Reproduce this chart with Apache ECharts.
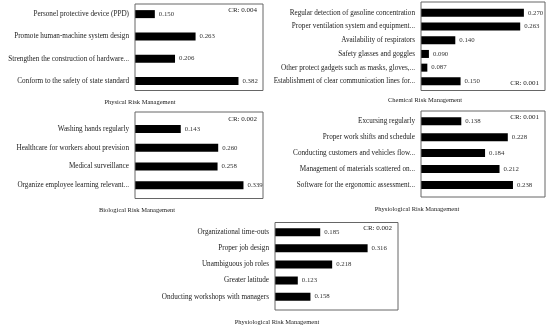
<!DOCTYPE html>
<html>
<head>
<meta charset="utf-8">
<script src="https://cdn.jsdelivr.net/npm/echarts@6/dist/echarts.min.js"></script>
<style>html,body{margin:0;padding:0;background:#fff;}#c{width:550px;height:329px;}</style>
</head>
<body>
<div id="c"></div>
<script>
// ---- data ----
var physicalCats = ["Personel protective device (PPD)", "Promote human-machine system design", "Strengthen the construction of hardware...", "Conform to the safety of state standard"];
var physicalVals = [0.150, 0.263, 0.206, 0.382];
var chemicalCats = ["Regular detection of gasoline concentration", "Proper ventilation system and equipment...", "Availability of respirators", "Safety glasses and goggles", "Other protect gadgets such as masks, gloves,...", "Establishment of clear communication lines for..."];
var chemicalVals = [0.270, 0.263, 0.140, 0.090, 0.087, 0.150];
var biologicalCats = ["Washing hands regularly", "Healthcare for workers about prevision", "Medical surveillance", "Organize employee learning relevant..."];
var biologicalVals = [0.143, 0.260, 0.258, 0.339];
var physio1Cats = ["Excursing regularly", "Proper work shifts and schedule", "Conducting customers and vehicles flow...", "Management of materials scattered on...", "Software for the ergonomic assessment..."];
var physio1Vals = [0.138, 0.228, 0.184, 0.212, 0.238];
var physio2Cats = ["Organizational time-outs", "Proper job design", "Unambiguous job roles", "Greater latitude", "Onducting workshops with managers"];
var physio2Vals = [0.185, 0.316, 0.218, 0.123, 0.158];
var titles = ["Physical Risk Management", "Chemical Risk Management", "Biological Risk Management", "Physiological Risk Management", "Physiological Risk Management"];
var crLabels = ["CR: 0.004", "CR: 0.001", "CR: 0.002", "CR: 0.001", "CR: 0.002"];

// ---- layout (positions / styles only) ----
var FONT = '"Liberation Serif", "DejaVu Serif", serif';
var panels = [
  {cats: physicalCats, vals: physicalVals, frame: [135, 4, 128, 86.5], grid: [135, 3, 128, 89], xr: [0.095, 0.45], title: [140, 102.5], cr: [257, 10]},
  {cats: chemicalCats, vals: chemicalVals, frame: [421, 2, 124, 88.5], grid: [421, 6, 124, 82.2], xr: [0.075, 0.31], title: [425, 100], cr: [539, 83]},
  {cats: biologicalCats, vals: biologicalVals, frame: [135, 112, 128, 86.5], grid: [135, 119.6, 128, 75], xr: [0, 0.4], title: [137, 210], cr: [257, 119]},
  {cats: physio1Cats, vals: physio1Vals, frame: [421, 111, 124, 86], grid: [421, 113.2, 124, 79.8], xr: [0.06, 0.30], title: [417, 209], cr: [539, 117]},
  {cats: physio2Cats, vals: physio2Vals, frame: [275, 222.5, 123, 87.5], grid: [275, 224.1, 123, 80.6], xr: [0.06, 0.40], title: [277, 322], cr: [392, 228]}
];

var grids = [], xAxes = [], yAxes = [], series = [], graphics = [];
panels.forEach(function (p, i) {
  grids.push({left: p.grid[0], top: p.grid[1], width: p.grid[2], height: p.grid[3], containLabel: false, show: false});
  xAxes.push({type: 'value', gridIndex: i, min: p.xr[0], max: p.xr[1], show: false});
  yAxes.push({type: 'category', gridIndex: i, data: p.cats, inverse: true,
    axisLine: {show: false}, axisTick: {show: false}, splitLine: {show: false},
    axisLabel: {margin: 6, fontFamily: FONT, fontSize: 7.2, color: '#222'}});
  series.push({type: 'bar', xAxisIndex: i, yAxisIndex: i, data: p.vals, barWidth: 8,
    itemStyle: {color: '#000'}, silent: true, animation: false,
    label: {show: true, position: 'right', distance: 4, fontFamily: FONT, fontSize: 6.8, color: '#333',
      formatter: function (d) { return d.value.toFixed(3); }}});
  graphics.push({type: 'rect', shape: {x: p.frame[0], y: p.frame[1], width: p.frame[2], height: p.frame[3]},
    style: {fill: 'none', stroke: '#666', lineWidth: 1}, z: 10});
  graphics.push({type: 'text', x: p.title[0], y: p.title[1],
    style: {text: titles[i], textAlign: 'center', textVerticalAlign: 'middle', font: '6.5px ' + FONT, fill: '#222'}});
  graphics.push({type: 'text', x: p.cr[0], y: p.cr[1],
    style: {text: crLabels[i], textAlign: 'right', textVerticalAlign: 'middle', font: '7px ' + FONT, fill: '#222'}});
});

var chart = echarts.init(document.getElementById('c'), null, {renderer: 'canvas'});
chart.setOption({
  animation: false,
  backgroundColor: '#fff',
  grid: grids, xAxis: xAxes, yAxis: yAxes, series: series, graphic: graphics
});
</script>
</body>
</html>
